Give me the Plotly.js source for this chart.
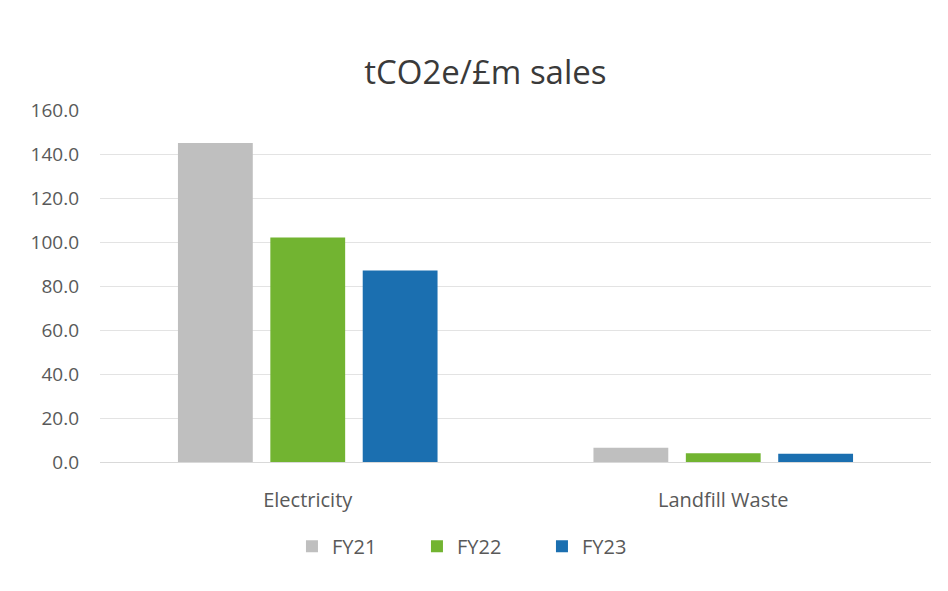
<!DOCTYPE html>
<html>
<head>
<meta charset="utf-8">
<script src="https://cdn.plot.ly/plotly-3.0.1.min.js"></script>
<style>html,body{margin:0;padding:0;background:#fff;}#chart{width:948px;height:591px;}</style>
</head>
<body>
<div id="chart"></div>
<script>
const categories = ["Electricity", "Landfill Waste"];
const seriesNames = ["FY21", "FY22", "FY23"];
const fy21 = [145.0, 6.5];
const fy22 = [102.0, 4.0];
const fy23 = [87.0, 3.8];
const tickVals = [0, 20, 40, 60, 80, 100, 120, 140, 160];
const tickText = ["0.0", "20.0", "40.0", "60.0", "80.0", "100.0", "120.0", "140.0", "160.0"];

const colors = ["#bfbfbf", "#72b431", "#1b6fb0"];
const values = [fy21, fy22, fy23];
const traces = seriesNames.map((name, i) => ({
  type: "bar",
  name: name,
  x: categories,
  y: values[i],
  marker: {color: colors[i]},
  hoverinfo: "x+y+name"
}));

const FONT = "'Open Sans', Lato, sans-serif";
const layout = {
  width: 948, height: 591,
  paper_bgcolor: "#ffffff", plot_bgcolor: "#ffffff",
  font: {family: FONT, color: "#595959", size: 20},
  title: {text: "tCO2e/£m sales", font: {size: 33, color: "#3a3a3a", family: FONT}, x: 0.512, xanchor: "center", y: 0.878, yanchor: "middle"},
  margin: {l: 100, r: 17, t: 110, b: 129},
  barmode: "group",
  bargap: 0.333,
  bargroupgap: 0.19,
  xaxis: {
    showgrid: false, showline: true, linecolor: "#d9d9d9", linewidth: 1,
    ticks: "", ticklabelstandoff: 20,
    tickfont: {size: 20, color: "#595959", family: FONT}
  },
  yaxis: {
    range: [0, 160], tickvals: tickVals, ticktext: tickText,
    showgrid: true, gridcolor: "#e3e3e3", gridwidth: 1,
    zeroline: true, zerolinecolor: "#d9d9d9",
    showline: false, ticks: "", ticklabelstandoff: 20,
    tickfont: {size: 19, color: "#595959", family: FONT}
  },
  showlegend: true,
  legend: {
    orientation: "h", x: 0.231, xanchor: "left", y: -0.239, yanchor: "middle",
    font: {size: 20, color: "#595959", family: FONT}, itemwidth: 30,
    entrywidth: 80
  }
};

Plotly.newPlot("chart", traces, layout, {displayModeBar: false, staticPlot: true});
</script>
</body>
</html>
